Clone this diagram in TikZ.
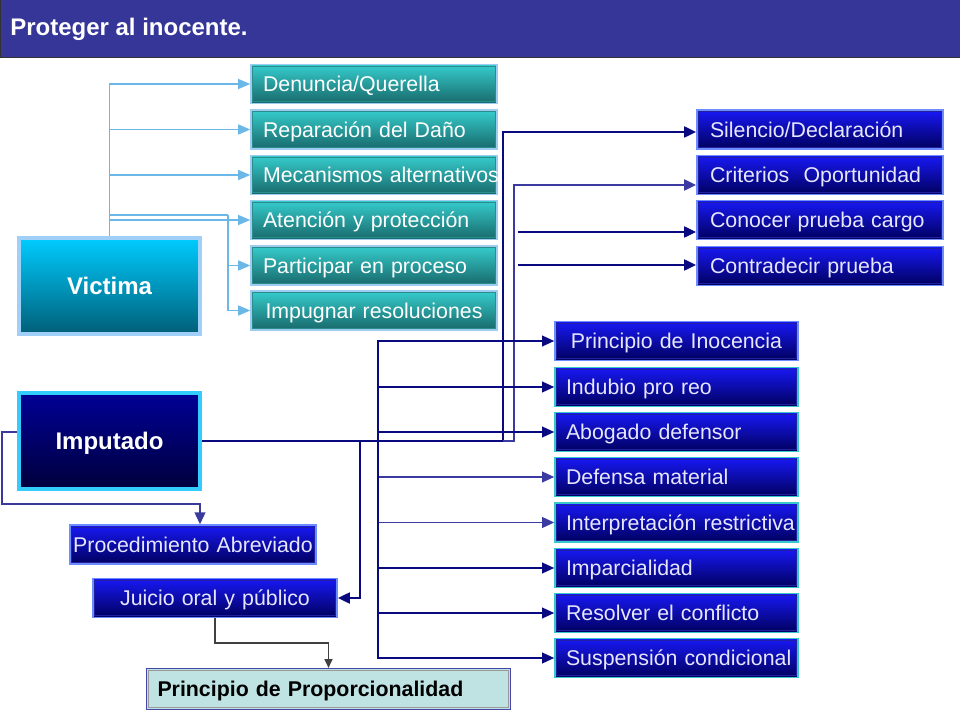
\documentclass[tikz,border=0pt]{standalone}
\usepackage{fontspec}
\setmainfont{Liberation Sans}
\usetikzlibrary{arrows.meta,calc}
\definecolor{titlebg}{HTML}{363699}
\definecolor{vtop}{HTML}{36CCCC}
\definecolor{vbot}{HTML}{18696B}
\definecolor{vedge}{HTML}{9CCCF0}
\definecolor{vinner}{HTML}{2A8C8C}
\definecolor{btop}{HTML}{1818F5}
\definecolor{bbot}{HTML}{00005E}
\definecolor{bedge}{HTML}{6C8CFF}
\definecolor{tedge}{HTML}{38C8CC}
\definecolor{binner}{HTML}{2020A0}
\definecolor{btext}{HTML}{E6E6FF}
\definecolor{vline}{HTML}{6BB8E8}
\definecolor{navy}{HTML}{0A0A80}
\definecolor{navyl}{HTML}{3A3AA0}
\definecolor{pline}{HTML}{3A3A9C}
\definecolor{propfill}{HTML}{BFE2E2}
\definecolor{propedge}{HTML}{4646A8}
\definecolor{victop}{HTML}{00CCFF}
\definecolor{vicbot}{HTML}{005F78}
\definecolor{vicedge}{HTML}{A0D0F8}
\definecolor{imptop}{HTML}{000096}
\definecolor{impbot}{HTML}{00003C}
\definecolor{impedge}{HTML}{33CCFF}
\begin{document}
\begin{tikzpicture}[x=0.75pt,y=-0.75pt,
  lbl/.style={font=\fontsize{16pt}{19pt}\selectfont, inner ysep=0pt,
      text height=11.5pt, text depth=0pt},
  inset/.style={path picture={\draw[#1,line width=0.6pt]
      ([shift={(1.3pt,-1.3pt)}]path picture bounding box.north west) rectangle
      ([shift={(-1.3pt,1.3pt)}]path picture bounding box.south east);}},
  vbox/.style={lbl, text=white, rectangle, minimum height=29pt, text width=166.5pt,
      inner xsep=9pt, align=left, top color=vtop, bottom color=vbot,
      draw=vedge, line width=1.2pt, inset=vinner},
  rbox/.style={lbl, text=btext, rectangle, minimum height=29pt, text width=165pt,
      inner xsep=9.75pt, align=left, top color=btop, bottom color=bbot,
      draw=bedge, line width=1.2pt, inset=binner},
  lbox/.style={lbl, text=btext, rectangle, minimum height=29pt, text width=165.75pt,
      inner xsep=8.25pt, align=left, top color=btop, bottom color=bbot,
      draw=tedge, line width=1.2pt, inset=binner},
  bigbox/.style={font=\fontsize{18pt}{21pt}\selectfont\bfseries, text=white,
      rectangle, minimum width=135.75pt, minimum height=72pt, line width=3pt,
      text height=13pt, text depth=0pt},
  varr/.style={draw=vline, line width=0.8pt, -{Triangle[length=9pt,width=7.5pt]}},
  vseg/.style={draw=vline, line width=0.8pt},
  trunk/.style={draw=navy, line width=2pt},
  tarr/.style={draw=navy, line width=2pt, -{Triangle[length=9pt,width=8pt]}},
  tarrl/.style={draw=navyl, line width=2pt, -{Triangle[length=9pt,width=8pt]}},
  barr/.style={draw=navy, line width=1.2pt, -{Triangle[length=9pt,width=8pt]}},
  barrl/.style={draw=navyl, line width=1.2pt, -{Triangle[length=9pt,width=8pt]}},
  parr/.style={draw=pline, line width=1.5pt, -{Triangle[length=9pt,width=8pt]}},
  garr/.style={draw=black!75, line width=1pt, -{Triangle[length=6.5pt,width=6pt]}}
]
\useasboundingbox (0,0) rectangle (960,720);
\fill[white] (0,0) rectangle (960,720);
% title bar
\draw[fill=titlebg, draw=black!80, line width=0.75pt] (0.5,-2) rectangle (962,57.5);
\node[anchor=base west, font=\fontsize{18pt}{21pt}\selectfont\bfseries, text=white, inner sep=0pt]
  (title) at (10,35.5) {Proteger al inocente.};

% Victima side
\node[bigbox, top color=victop, bottom color=vicbot, draw=vicedge] (vic) at (109.5,286) {Victima};
\node[vbox] (v1) at (374,84) {Denuncia/Querella};
\node[vbox] (v2) at (374,129.5) {Reparación del Daño};
\node[vbox] (v3) at (374,175) {\mbox{Mecanismos alternativos}};
\node[vbox] (v4) at (374,220) {Atención y protección};
\node[vbox] (v5) at (374,265.5) {Participar en proceso};
\node[vbox, align=center] (v6) at (374,310.5) {\mbox{Impugnar resoluciones}};

\draw[varr] (vic.north) |- (v1.west);
\draw[varr] (vic.north) |- (v2.west);
\draw[varr] (vic.north) |- (v3.west);
\draw[varr] (vic.north) |- (v4.west);
\coordinate (vj) at (228,215);
\draw[vseg] (vic.north |- vj) -- (vj);
\draw[varr] (vj) |- (v5.west);
\draw[varr] (vj) |- (v6.west);

% top right boxes
\node[rbox] (s1) at (820,129.5) {Silencio/Declaración};
\node[rbox] (s2) at (820,175) {Criterios\ \ Oportunidad};
\node[rbox] (s3) at (820,220) {Conocer prueba cargo};
\node[rbox] (s4) at (820,266) {Contradecir prueba};

% Imputado side
\node[bigbox, top color=imptop, bottom color=impbot, draw=impedge] (imp) at (109.5,441) {Imputado};

\node[lbox, draw=bedge, align=center] (p1) at (676.5,341) {Principio de Inocencia};
\node[lbox] (p2) at (676.5,387) {Indubio pro reo};
\node[lbox] (p3) at (676.5,432) {Abogado defensor};
\node[lbox] (p4) at (676.5,477) {Defensa material};
\node[lbox] (p5) at (676.5,522.5) {\mbox{Interpretación restrictiva}};
\node[lbox] (p6) at (676.5,568) {Imparcialidad};
\node[lbox] (p7) at (676.5,613) {Resolver el conflicto};
\node[lbox] (p8) at (676.5,658) {\mbox{Suspensión condicional}};

\node[lbl, text=btext, rectangle, minimum height=29pt, text width=180pt, inner xsep=2.25pt,
  align=center, top color=btop, bottom color=bbot, draw=bedge, line width=1.2pt, inset=binner]
  (pro) at (193,544.5) {\mbox{Procedimiento Abreviado}};
\node[lbl, text=btext, rectangle, minimum height=29pt, text width=178.5pt, inner xsep=2.25pt,
  align=center, top color=btop, bottom color=bbot, draw=bedge, line width=1.2pt, inset=binner]
  (jui) at (215,598) {Juicio oral y público};
\node[lbl, font=\fontsize{16pt}{19pt}\selectfont\bfseries, text=black, rectangle,
  minimum height=30.5pt, text width=256.5pt, inner xsep=8.25pt, align=left,
  fill=propfill, draw=propedge, line width=1.2pt, inset=black!40]
  (prop) at (328.5,689) {Principio de Proporcionalidad};

% imputado connectors
\coordinate (ta) at (503,441);
\coordinate (tb) at (514,441);
\coordinate (tj) at (360,441);
\coordinate (sp) at (378,441);
\draw[trunk] (imp.east) -- (ta);
\draw[tarr] (ta) |- ($(s1.west)+(0,2.5)$);
\draw[tarrl] (ta) -- (tb) |- ($(s2.west)+(0,10)$);
\coordinate (c3) at (518,232);
\coordinate (c4) at (518,265);
\draw[tarr] (c3) -- (c3 -| s3.west);
\draw[tarr] (c4) -- (c4 -| s4.west);
\draw[tarr] (tj) |- (jui.east);
\draw[barr] (sp) |- (p1.west);
\draw[barr] (sp) |- (p2.west);
\draw[barr] (sp) |- (p3.west);
\draw[barrl] (sp) |- (p4.west);
\draw[barrl] (sp) |- (p5.west);
\draw[barr] (sp) |- (p6.west);
\draw[barr] (sp) |- (p7.west);
\draw[barr] (sp) |- (p8.west);

\coordinate (pl) at (2,504);
\draw[parr] ($(imp.west)+(0,-9)$) -| (pl) -| ($(pro.north)+(7,0)$);
\draw[garr] (jui.south) -- ++(0,25) -| (prop.north);
\end{tikzpicture}
\end{document}
